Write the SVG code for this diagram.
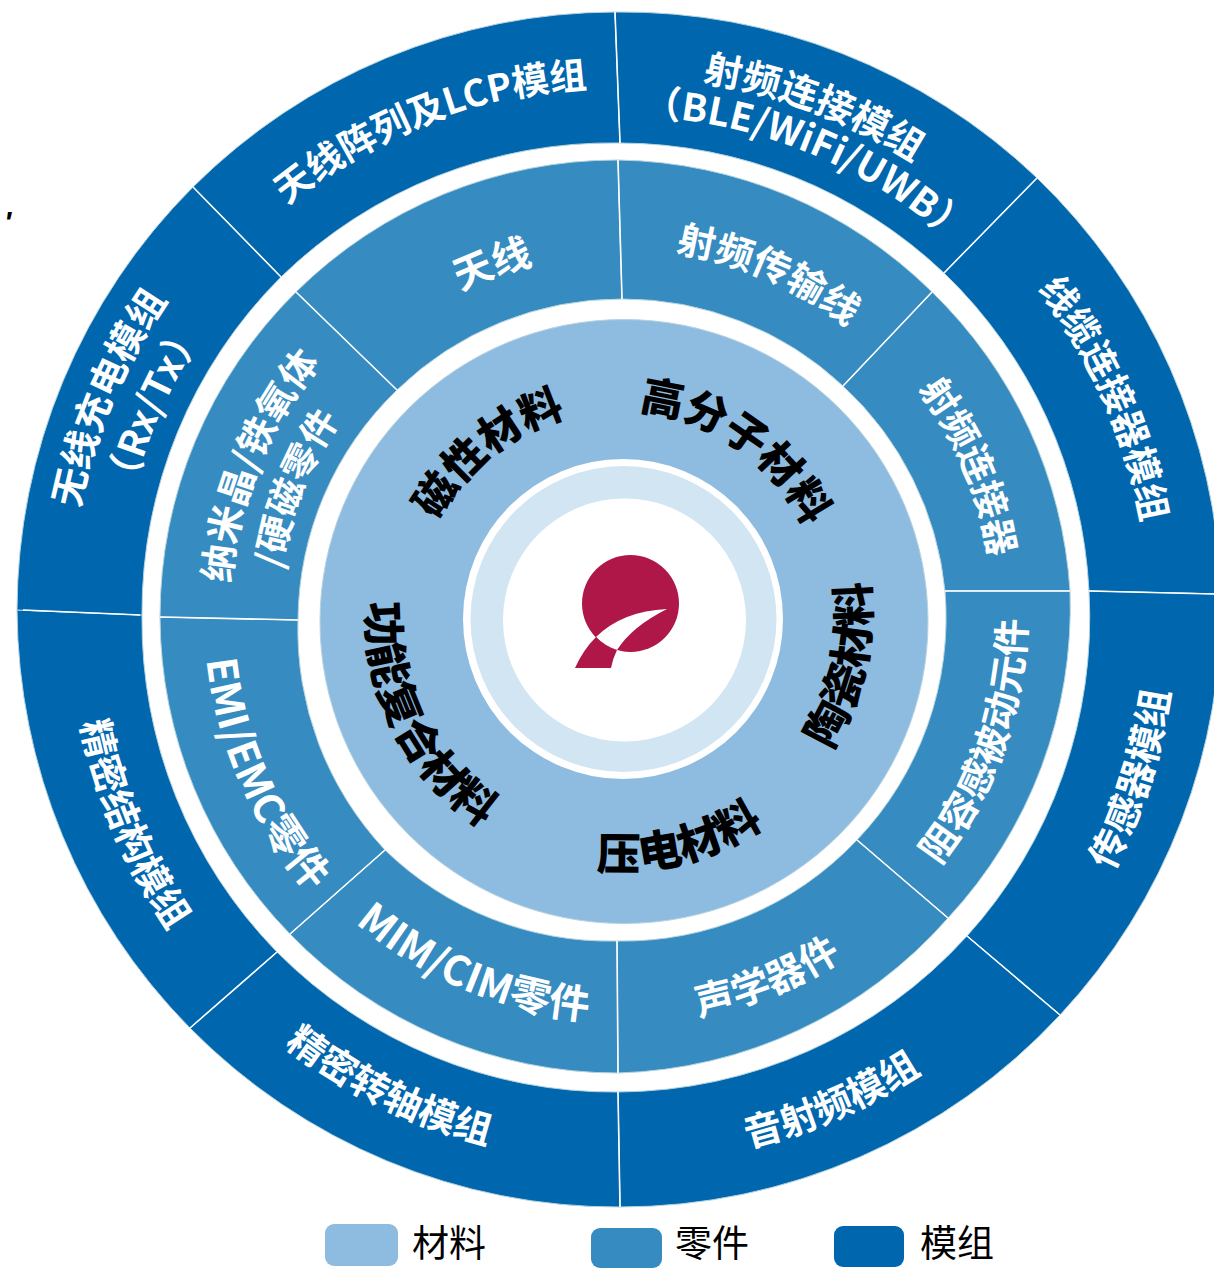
<svg xmlns="http://www.w3.org/2000/svg" width="1214" height="1268" viewBox="0 0 1214 1268">
<style>
text{font-family:"Noto Sans CJK SC","Noto Sans",sans-serif}
.o{fill:#0066ae;stroke:#b5d3de;stroke-width:1}
.m{fill:#368cc1;stroke:#b5d3de;stroke-width:1}
.w{fill:#fff;font-weight:700;text-anchor:middle}
.k{fill:#000;font-weight:900;text-anchor:middle;font-size:44px}
.k2{font-size:42.500px}
.d{stroke:#fff;stroke-width:1.6;fill:none}
.l{font-size:37px;fill:#000}
.f37{font-size:37px}.f38{font-size:38px}.f39{font-size:39px}.f36{font-size:36px}.f41{font-size:41px}
</style>
<defs>
<path id="a528" d="M92 615A528 528 0 0 1 1148 615"/>
<path id="a540" d="M80 615A540 540 0 0 1 1160 615"/>
<path id="a499" d="M121 615A499 499 0 0 1 1119 615"/>
<path id="a530" d="M90 615A530 530 0 0 1 1150 615"/>
<path id="a551" d="M69 615A551 551 0 0 1 1171 615"/>
<path id="a502" d="M118 615A502 502 0 0 1 1122 615"/>
<path id="a361" d="M259 615A361 361 0 0 1 981 615"/>
<path id="a367" d="M253 615A367 367 0 0 1 987 615"/>
<path id="a374" d="M246 615A374 374 0 0 1 994 615"/>
<path id="a391" d="M229 615A391 391 0 0 1 1011 615"/>
<path id="a341" d="M279 615A341 341 0 0 1 961 615"/>
<path id="a205" d="M415 615A205 205 0 0 1 825 615"/>
<path id="b555" d="M65 615A555 555 0 0 0 1175 615"/>
<path id="b548" d="M72 615A548 548 0 0 0 1168 615"/>
<path id="b546" d="M74 615A546 546 0 0 0 1166 615"/>
<path id="b550" d="M70 615A550 550 0 0 0 1170 615"/>
<path id="b406" d="M214 615A406 406 0 0 0 1026 615"/>
<path id="b409" d="M211 615A409 409 0 0 0 1029 615"/>
<path id="b416" d="M204 615A416 416 0 0 0 1036 615"/>
<path id="b250" d="M370 615A250 250 0 0 0 870 615"/>
<path id="b255" d="M365 615A255 255 0 0 0 875 615"/>
<path id="b253" d="M367 615A253 253 0 0 0 873 615"/>
</defs>

<g id="module-ring">
<g id="n-tianxian-lcp"><path class="o" d="M193 187A600 600 0 0 1 615 12L620 143A474 474 0 0 0 281 277Z"/>
<text class="w f37" transform="rotate(-21.3 620 615)"><textPath href="#a528" startOffset="50%">天线阵列及LCP模组</textPath></text></g>
<g id="n-rf-module"><path class="o" d="M615 12A600 600 0 0 1 1037 178L944 273A474 474 0 0 0 620 143Z"/>
<text class="w f38" transform="rotate(20.900 620 615)"><textPath href="#a540" startOffset="50%">射频连接模组</textPath></text>
<text class="w f38" transform="rotate(22.400 620 615)"><textPath href="#a499" startOffset="50%">（BLE/WiFi/UWB）</textPath></text></g>
<g id="n-cable"><path class="o" d="M1037 178A600 600 0 0 1 1221 594L1089 591A474 474 0 0 0 944 273Z"/>
<text class="w f37" transform="rotate(66 620 615)"><textPath href="#a530" startOffset="50%">线缆连接器模组</textPath></text></g>
<g id="n-sensor"><path class="o" d="M1221 594A600 600 0 0 1 1060 1015L967 936A474 474 0 0 0 1089 591Z"/>
<text class="w f38" transform="rotate(-72.300 620 615)"><textPath href="#b555" startOffset="50%">传感器模组</textPath></text></g>
<g id="n-audio"><path class="o" d="M1060 1015A600 600 0 0 1 620 1207L618 1092A474 474 0 0 0 967 936Z"/>
<text class="w f38" transform="rotate(-23.500 620 615)"><textPath href="#b548" startOffset="50%">音射频模组</textPath></text></g>
<g id="n-hinge"><path class="o" d="M620 1207A600 600 0 0 1 190 1028L277 952A474 474 0 0 0 618 1092Z"/>
<text class="w f38" transform="rotate(26 620 615)"><textPath href="#b546" startOffset="50%">精密转轴模组</textPath></text></g>
<g id="n-structure"><path class="o" d="M190 1028A600 600 0 0 1 17 610L142 615A474 474 0 0 0 277 952Z"/>
<text class="w f38" transform="rotate(66.800 620 615)"><textPath href="#b550" startOffset="50%">精密结构模组</textPath></text></g>
<g id="n-wireless"><path class="o" d="M17 610A600 600 0 0 1 193 187L281 277A474 474 0 0 0 142 615Z"/>
<text class="w f38" transform="rotate(-67 620 615)"><textPath href="#a551" startOffset="50%">无线充电模组</textPath></text>
<text class="w f38" transform="rotate(-66 620 615)"><textPath href="#a502" startOffset="50%">（Rx/Tx）</textPath></text></g>
</g>

<g id="component-ring">
<g id="n-antenna"><path class="m" d="M296 292A456 456 0 0 1 618 160L622 299A322 322 0 0 0 397 390Z"/>
<text class="w f39" transform="rotate(-20 620 615)"><textPath href="#a361" startOffset="50%">天线</textPath></text></g>
<g id="n-rfline"><path class="m" d="M618 160A456 456 0 0 1 932 292L843 386A322 322 0 0 0 622 299Z"/>
<text class="w f38" transform="rotate(23.500 620 615)"><textPath href="#a367" startOffset="50%">射频传输线</textPath></text></g>
<g id="n-rfconn"><path class="m" d="M932 292A456 456 0 0 1 1070 591L945 591A322 322 0 0 0 843 386Z"/>
<text class="w f37" transform="rotate(67 620 615)"><textPath href="#a374" startOffset="50%">射频连接器</textPath></text></g>
<g id="n-passive"><path class="m" d="M1070 591A456 456 0 0 1 948 918L857 840A322 322 0 0 0 945 591Z"/>
<text class="w f38" transform="rotate(-70.600 620 615)"><textPath href="#b406" startOffset="50%">阻容感被动元件</textPath></text></g>
<g id="n-acoustic"><path class="m" d="M948 918A456 456 0 0 1 618 1073L617 941A322 322 0 0 0 857 840Z"/>
<text class="w f39" transform="rotate(-22 620 615)"><textPath href="#b409" startOffset="50%">声学器件</textPath></text></g>
<g id="n-mim"><path class="m" d="M618 1073A456 456 0 0 1 290 934L385 850A322 322 0 0 0 617 941Z"/>
<text class="w f41" transform="rotate(22.600 620 615)"><textPath href="#b406" startOffset="50%">MIM/CIM零件</textPath></text></g>
<g id="n-emi"><path class="m" d="M290 934A456 456 0 0 1 160 617L298 620A322 322 0 0 0 385 850Z"/>
<text class="w f41" transform="rotate(66 620 615)"><textPath href="#b416" startOffset="50%">EMI/EMC零件</textPath></text></g>
<g id="n-nano"><path class="m" d="M160 617A456 456 0 0 1 296 292L397 390A322 322 0 0 0 298 620Z"/>
<text class="w f38" transform="rotate(-67.600 620 615)"><textPath href="#a391" startOffset="50%">纳米晶/铁氧体</textPath></text>
<text class="w f37" transform="rotate(-68.700 620 615)"><textPath href="#a341" startOffset="50%">/硬磁零件</textPath></text></g>
</g>

<g id="connectors" class="d">
<path d="M193 187L281 277M615 12L620 143M1037 178L944 273M1089 591L1214 594M967 936L1060 1015M618 1092L620 1207M190 1028L277 952M23 610L140 615"/>
<path d="M296 292L397 390M618 160L622 299M932 292L843 386M945 591L1070 591M857 840L948 918M617 941L618 1073M385 850L290 934M160 617L298 620"/>
</g>

<g id="material-ring">
<ellipse cx="624" cy="621.500" rx="304" ry="302" fill="#8ebce1" stroke="#b5d3de"/>
<g id="n-magnetic"><text class="k k2" transform="rotate(-39 620 615)"><textPath href="#a205" startOffset="50%">磁性材料</textPath></text></g>
<g id="n-polymer"><text class="k k2" transform="rotate(35 620 615)"><textPath href="#a205" startOffset="50%">高分子材料</textPath></text></g>
<g id="n-ceramic"><text class="k" transform="rotate(-77.500 620 615)"><textPath href="#b250" startOffset="50%">陶瓷材料</textPath></text></g>
<g id="n-piezo"><text class="k" transform="rotate(-14.500 620 615)"><textPath href="#b255" startOffset="50%">压电材料</textPath></text></g>
<g id="n-composite"><text class="k" transform="rotate(63 620 615)"><textPath href="#b253" startOffset="50%">功能复合材料</textPath></text></g>
</g>

<g id="core">
<circle cx="623" cy="619" r="160" fill="#fff"/>
<circle cx="623.500" cy="619" r="153" fill="#d2e5f3"/>
<circle cx="624.500" cy="620" r="121.500" fill="#fff"/>
<g id="logo">
<circle cx="630.500" cy="603.500" r="48.500" fill="#ae1748"/>
<path d="M667 609Q622.500 611 596 637A48.500 48.500 0 0 0 617 650Q632 626.500 667 609Z" fill="#fff"/>
<path d="M596 637Q583 650 575 668L611 668Q613 658 617 650A48.500 48.500 0 0 1 596 637Z" fill="#ae1748"/>
</g>
</g>

<text x="4" y="232" style="font-family:'Liberation Sans',sans-serif;font-weight:700;font-style:italic;font-size:30px">'</text>

<g id="legend">
<g id="legend-material"><rect x="325" y="1224" width="73" height="42" rx="9" fill="#8ebce1"/><text class="l" x="412" y="1257">材料</text></g>
<g id="legend-component"><rect x="591" y="1228" width="71" height="40" rx="9" fill="#368cc1"/><text class="l" x="675" y="1257">零件</text></g>
<g id="legend-module"><rect x="834" y="1226" width="70" height="41" rx="9" fill="#0066ae"/><text class="l" x="920" y="1257">模组</text></g>
</g>
</svg>
